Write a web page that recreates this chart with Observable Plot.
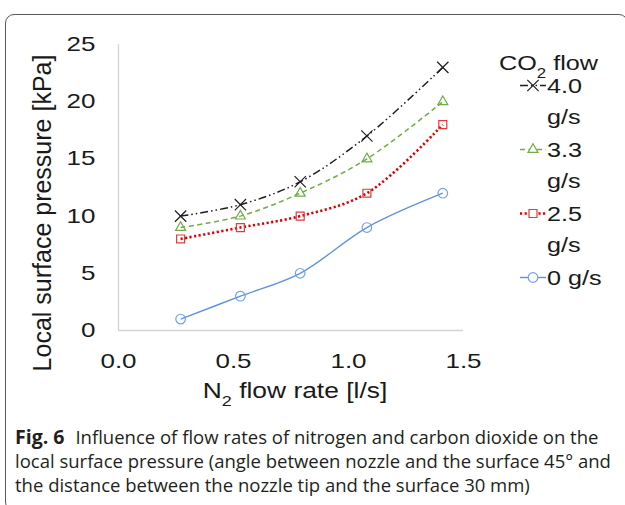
<!DOCTYPE html>
<html><head><meta charset="utf-8">
<script src="https://cdn.jsdelivr.net/npm/d3@7"></script>
<script src="https://cdn.jsdelivr.net/npm/@observablehq/plot@0.6"></script>
<style>
html,body{margin:0;padding:0;background:#fff;}
#wrap{position:relative;width:625px;height:505px;overflow:hidden;}
#frame{position:absolute;left:5px;top:14px;width:623px;height:497px;border:1.3px solid #5a5a5a;border-radius:9px;box-sizing:border-box;}
#chart{position:absolute;left:0;top:0;}
#caption{position:absolute;left:15px;top:425px;font-family:"Open Sans",sans-serif;font-size:18.5px;line-height:24px;color:#231f20;white-space:nowrap;}
#caption b{font-weight:700;font-size:19.5px;margin-right:11px;}
</style></head><body>
<div id="wrap"><div id="frame"></div><div id="chart"></div><div id="caption"></div></div>
<script>
// ---- data ----
const n2Flow = [0.27, 0.53, 0.79, 1.08, 1.41];
const series = ["4.0 g/s", "3.3 g/s", "2.5 g/s", "0 g/s"];
const pressure40 = [10, 11, 13, 17, 23];
const pressure33 = [9, 10, 12, 15, 20];
const pressure25 = [8, 9, 10, 12, 18];
const pressure0 = [1, 3, 5, 9, 12];
const xTicks = [0, 0.5, 1.0, 1.5];
const yTicks = [0, 5, 10, 15, 20, 25];
const yTitle = "Local surface pressure [kPa]";
const xTitleParts = ["N", "2", " flow rate [l/s]"];
const legendTitleParts = ["CO", "2", " flow"];
const captionLead = "Fig. 6";
const captionLines = [
  "Influence of flow rates of nitrogen and carbon dioxide on the",
  "local surface pressure (angle between nozzle and the surface 45° and",
  "the distance between the nozzle tip and the surface 30 mm)"
];

// ---- styles ----
const values = [pressure40, pressure33, pressure25, pressure0];
const style = {
  "4.0 g/s": {stroke: "#1e1e1e", dash: "8,3,1.5,3,1.5,3", width: 1.5, symbol: "times", mstroke: "#1e1e1e", r: 5.2},
  "3.3 g/s": {stroke: "#70ad47", dash: "5,3.5", width: 1.5, symbol: "triangle", mstroke: "#70ad47", r: 3.7},
  "2.5 g/s": {stroke: "#dd0000", dash: "2.2,2.4", width: 2.6, symbol: "square", mstroke: "#e5393b", r: 4.5},
  "0 g/s":   {stroke: "#5f93e0", dash: null, width: 1.4, symbol: "circle", mstroke: "#70a2e8", r: 4.8}
};
const symbolTypes = {times: d3.symbolTimes, triangle: d3.symbolTriangle, square: d3.symbolSquare, circle: d3.symbolCircle};

const rows = series.flatMap((s, i) => n2Flow.map((x, j) => ({series: s, x, y: values[i][j]})));
const font = "'Liberation Sans', Arimo, Arial, sans-serif";

const marks = [
  Plot.ruleY([0], {stroke: "#d4d4d4", strokeWidth: 1.3}),
  Plot.ruleX([0], {stroke: "#d4d4d4", strokeWidth: 1.3}),
  Plot.axisX({ticks: xTicks, tickFormat: d3.format(".1f"), tickSize: 0, tickPadding: 23, fontSize: 20, label: null}),
  Plot.axisY({ticks: yTicks, tickSize: 0, tickPadding: 23, fontSize: 20, label: null})
];
for (const s of [...series].reverse()) {
  const st = style[s];
  const data = rows.filter(d => d.series === s);
  marks.push(Plot.line(data, {x: "x", y: "y", stroke: st.stroke, strokeWidth: st.width, strokeDasharray: st.dash,
    strokeLinecap: "butt", curve: "catmull-rom"}));
  marks.push(Plot.dot(data, {x: "x", y: "y", symbol: st.symbol, r: st.r, stroke: st.mstroke, fill: "none", strokeWidth: 1.2}));
}

const plot = Plot.plot({
  width: 625, height: 400,
  marginLeft: 118, marginRight: 162, marginTop: 44, marginBottom: 70,
  x: {domain: [0, 1.5]},
  y: {domain: [0, 25]},
  style: {fontFamily: font, fontSize: "20px", color: "#1a1a1a", background: "transparent", overflow: "visible"},
  marks
});
document.getElementById("chart").appendChild(plot);

// stretch tick labels horizontally (the reference font is wide); keep em offsets as they are
function stretch(sel, k) {
  sel.each(function() {
    const t = d3.select(this);
    let x = 0, y = 0;
    const ax = t.attr("x"), ay = t.attr("y");
    if (ax != null && !/em/.test(ax)) { x = +ax; t.attr("x", null); }
    if (ay != null && !/em/.test(ay)) { y = +ay; t.attr("y", null); }
    const tr = t.attr("transform") || "";
    t.attr("transform", `${tr} translate(${x},${y}) scale(${k},1)`);
  });
}
const svg = d3.select(plot);
stretch(svg.selectAll('g[aria-label="x-axis tick label"] text, g[aria-label="y-axis tick label"] text'), 1.3);

// axis titles
svg.append("text").attr("transform", "translate(51,213) rotate(-90)").attr("text-anchor", "middle")
  .attr("font-size", 25).attr("fill", "#1a1a1a").text(yTitle);
const xt = svg.append("text").attr("transform", "translate(295,398) scale(1.2,1)").attr("text-anchor", "middle")
  .attr("font-size", 22).attr("fill", "#1a1a1a");
xt.append("tspan").text(xTitleParts[0]);
xt.append("tspan").attr("font-size", 15).attr("dy", 8).text(xTitleParts[1]);
xt.append("tspan").attr("dy", -8).text(xTitleParts[2]);

// legend
const lg = svg.append("g").attr("fill", "#1a1a1a").attr("font-size", 21).attr("text-anchor", "start");
const lt = lg.append("text").attr("transform", "translate(499,70) scale(1.2,1)");
lt.append("tspan").text(legendTitleParts[0]);
lt.append("tspan").attr("font-size", 14).attr("dy", 8).text(legendTitleParts[1]);
lt.append("tspan").attr("dy", -8).text(legendTitleParts[2]);
series.forEach((s, i) => {
  const st = style[s];
  const base = 93 + i * 64;
  const lines = s.length > 5 ? s.split(" ") : [s];
  lines.forEach((ln, k) => {
    lg.append("text").attr("transform", `translate(547,${base + k * 31}) scale(1.2,1)`).text(ln);
  });
  const cy = base - 7.5;
  lg.append("line").attr("x1", 520).attr("x2", 546).attr("y1", cy).attr("y2", cy)
    .attr("stroke", st.stroke).attr("stroke-width", st.width).attr("stroke-dasharray", st.dash);
  lg.append("path").attr("transform", `translate(533,${cy})`)
    .attr("d", d3.symbol(symbolTypes[st.symbol], Math.PI * st.r * st.r)())
    .attr("fill", "#fff").attr("stroke", st.mstroke).attr("stroke-width", 1.2);
});

// caption
const cap = document.getElementById("caption");
captionLines.forEach((ln, i) => {
  const div = document.createElement("div");
  if (i === 0) {
    const b = document.createElement("b");
    b.textContent = captionLead;
    div.appendChild(b);
  }
  div.appendChild(document.createTextNode(ln));
  cap.appendChild(div);
});
</script>
</body></html>
